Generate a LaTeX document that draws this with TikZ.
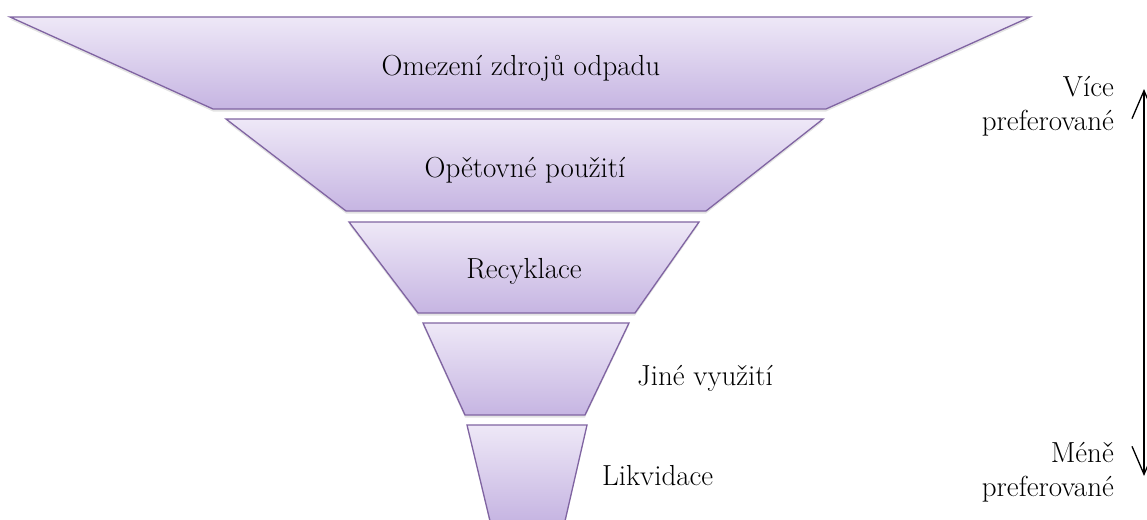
\documentclass[tikz,border=0pt]{standalone}
\usepackage{fontspec}
\usetikzlibrary{shadows,arrows.meta}
\definecolor{tierline}{HTML}{8064A2}
\definecolor{tiertop}{HTML}{EEE8F7}
\definecolor{tierbot}{HTML}{C6B5E2}
\tikzset{
  tier/.style={draw=tierline, line width=1.3pt, line join=miter,
    top color=tiertop, bottom color=tierbot,
    drop shadow={opacity=0.22, shadow xshift=0pt, shadow yshift=-2.5pt}},
  tiertext/.style={font=\fontsize{29}{34}\selectfont, inner sep=0pt},
  sidetext/.style={font=\fontsize{29}{34}\selectfont, inner sep=0pt, align=right, anchor=east},
  scalearrow/.style={line width=1.3pt, {Straight Barb[length=28pt,width=24pt]}-{Straight Barb[length=28pt,width=24pt]}}
}
\begin{document}
\begin{tikzpicture}[x=1pt,y=-1pt]
\useasboundingbox (0,0) rectangle (1147,519);
% funnel tiers, widest at the top
\path[tier] (10,17) -- (1030,17) -- (826,109) -- (213,109) -- cycle;
\path[tier] (226,119) -- (823,119) -- (706,211) -- (346,211) -- cycle;
\path[tier] (349,222) -- (699,222) -- (635,313) -- (418,313) -- cycle;
\path[tier] (423,323) -- (629,323) -- (585,415) -- (465,415) -- cycle;
\path[tier] (467,425) -- (587,425) -- (565,521) -- (490,521) -- cycle;
% tier labels
\node[tiertext] (t1) at (521,68) {Omezení zdrojů odpadu};
\node[tiertext] (t2) at (525,170) {Opětovné použití};
\node[tiertext] (t3) at (524,271) {Recyklace};
\node[tiertext, anchor=west] (t4) at (637,378) {Jiné využití};
\node[tiertext, anchor=west] (t5) at (602,476) {Likvidace};
% preference scale
\node[sidetext] (more) at (1114,106) {Více\\preferované};
\node[sidetext] (less) at (1114,472) {Méně\\preferované};
\coordinate (atop) at (1144,89);
\coordinate (abot) at (1144,476);
\draw[scalearrow] (abot) -- (atop);
\end{tikzpicture}
\end{document}
